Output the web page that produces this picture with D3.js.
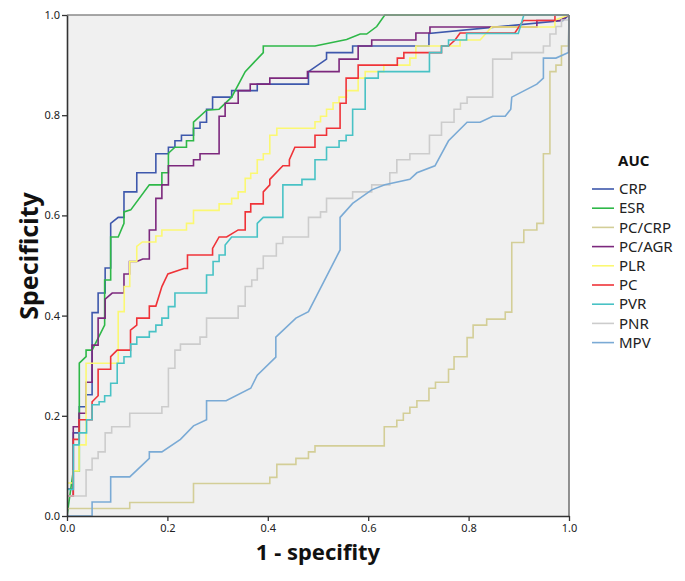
<!DOCTYPE html>
<html><head><meta charset="utf-8">
<script src="https://cdn.jsdelivr.net/npm/d3@7"></script>
<style>body{margin:0;background:#fff}svg{display:block}</style>
</head><body><svg id="c" width="685" height="581"></svg>
<script>
// ---- DATA ----
const seriesNames = ["CRP","ESR","PC/CRP","PC/AGR","PLR","PC","PVR","PNR","MPV"];
const seriesColors = ["#3E58AC","#2EB848","#D3CE97","#7C287D","#FBF873","#EF3338","#48C2C5","#CCCCCC","#7AAAD5"];
const xTickValues = [0,0.2,0.4,0.6,0.8,1.0];
const yTickValues = [0,0.2,0.4,0.6,0.8,1.0];
const legendTitle = "AUC";
const xTitle = "1 - specifity";
const yTitle = "Specificity";

const crp = [[0,0],[0,0.054],[0.0125,0.054],[0.0125,0.166],[0.0245,0.166],[0.0245,0.218],[0.038,0.218],[0.038,0.242],[0.050,0.242],[0.050,0.406],[0.062,0.406],[0.062,0.445],[0.076,0.445],[0.076,0.495],[0.087,0.495],[0.087,0.584],[0.102,0.596],[0.1135,0.596],[0.1135,0.647],[0.139,0.647],[0.139,0.685],[0.177,0.685],[0.177,0.723],[0.202,0.723],[0.202,0.736],[0.215,0.736],[0.215,0.749],[0.228,0.749],[0.228,0.760],[0.252,0.760],[0.252,0.774],[0.265,0.774],[0.265,0.786],[0.278,0.786],[0.278,0.812],[0.290,0.812],[0.290,0.836],[0.328,0.836],[0.328,0.849],[0.379,0.849],[0.379,0.862],[0.481,0.862],[0.481,0.887],[0.517,0.912],[0.517,0.925],[0.569,0.925],[0.569,0.938],[0.721,0.938],[0.721,0.963],[0.988,0.989],[1,1]];
const esr = [[0,0],[0.0125,0.090],[0.0245,0.090],[0.0245,0.305],[0.038,0.318],[0.038,0.331],[0.050,0.331],[0.075,0.381],[0.075,0.471],[0.087,0.471],[0.087,0.557],[0.102,0.557],[0.1135,0.584],[0.1135,0.607],[0.127,0.611],[0.164,0.661],[0.189,0.661],[0.189,0.685],[0.202,0.685],[0.202,0.724],[0.215,0.736],[0.238,0.736],[0.238,0.749],[0.252,0.749],[0.252,0.786],[0.278,0.810],[0.303,0.812],[0.328,0.836],[0.355,0.887],[0.391,0.925],[0.391,0.938],[0.494,0.938],[0.557,0.951],[0.584,0.962],[0.597,0.962],[0.617,0.977],[0.633,1],[1,1]];
const pcCrp = [[0,0],[0,0.015],[0.125,0.015],[0.125,0.027],[0.252,0.027],[0.252,0.065],[0.404,0.065],[0.404,0.077],[0.418,0.077],[0.418,0.103],[0.456,0.103],[0.456,0.115],[0.481,0.115],[0.481,0.128],[0.494,0.128],[0.494,0.140],[0.632,0.140],[0.632,0.178],[0.657,0.178],[0.657,0.191],[0.670,0.191],[0.670,0.205],[0.683,0.205],[0.683,0.217],[0.697,0.217],[0.697,0.230],[0.721,0.230],[0.721,0.255],[0.734,0.255],[0.734,0.267],[0.760,0.267],[0.760,0.293],[0.771,0.293],[0.771,0.318],[0.797,0.318],[0.797,0.356],[0.809,0.356],[0.809,0.381],[0.836,0.381],[0.836,0.393],[0.873,0.393],[0.873,0.407],[0.886,0.407],[0.886,0.546],[0.910,0.546],[0.910,0.571],[0.936,0.571],[0.936,0.584],[0.949,0.584],[0.949,0.723],[0.962,0.723],[0.962,0.887],[0.974,0.887],[0.974,0.900],[0.985,0.900],[0.985,0.938],[0.999,0.938],[1,1]];
const pcAgr = [[0,0],[0,0.040],[0.0125,0.040],[0.0125,0.178],[0.024,0.178],[0.024,0.205],[0.038,0.205],[0.038,0.267],[0.050,0.267],[0.050,0.341],[0.062,0.341],[0.062,0.395],[0.076,0.395],[0.076,0.433],[0.090,0.445],[0.1135,0.445],[0.1135,0.483],[0.1245,0.483],[0.1245,0.508],[0.139,0.508],[0.151,0.513],[0.164,0.513],[0.164,0.571],[0.177,0.571],[0.177,0.634],[0.189,0.634],[0.189,0.661],[0.202,0.661],[0.202,0.699],[0.252,0.699],[0.252,0.711],[0.265,0.711],[0.265,0.723],[0.303,0.723],[0.303,0.798],[0.315,0.798],[0.315,0.824],[0.341,0.824],[0.341,0.849],[0.365,0.849],[0.365,0.862],[0.404,0.862],[0.404,0.874],[0.479,0.874],[0.479,0.887],[0.542,0.887],[0.542,0.912],[0.580,0.912],[0.580,0.938],[0.607,0.938],[0.607,0.950],[0.695,0.950],[0.695,0.964],[0.723,0.964],[0.723,0.976],[0.936,0.976],[0.936,0.989],[0.982,0.989],[1,1]];
const plr = [[0,0],[0,0.066],[0.012,0.066],[0.012,0.090],[0.024,0.090],[0.024,0.142],[0.038,0.142],[0.038,0.305],[0.102,0.305],[0.102,0.408],[0.114,0.408],[0.114,0.458],[0.125,0.458],[0.125,0.508],[0.139,0.508],[0.139,0.538],[0.150,0.547],[0.177,0.547],[0.177,0.559],[0.189,0.559],[0.189,0.571],[0.238,0.571],[0.238,0.584],[0.252,0.584],[0.252,0.610],[0.303,0.610],[0.303,0.623],[0.328,0.623],[0.328,0.634],[0.341,0.634],[0.341,0.647],[0.355,0.647],[0.355,0.674],[0.366,0.674],[0.366,0.684],[0.379,0.684],[0.379,0.711],[0.391,0.711],[0.391,0.723],[0.404,0.723],[0.404,0.760],[0.418,0.760],[0.418,0.774],[0.494,0.774],[0.494,0.787],[0.505,0.787],[0.505,0.798],[0.517,0.798],[0.517,0.812],[0.530,0.812],[0.530,0.825],[0.542,0.825],[0.542,0.836],[0.557,0.836],[0.557,0.849],[0.580,0.849],[0.580,0.874],[0.594,0.874],[0.594,0.887],[0.631,0.887],[0.631,0.900],[0.683,0.900],[0.683,0.914],[0.695,0.914],[0.695,0.938],[0.783,0.938],[0.783,0.950],[0.823,0.950],[0.846,0.976],[0.972,0.976],[0.972,0.990],[1,1]];
const pc = [[0,0],[0,0.040],[0.0125,0.040],[0.0125,0.153],[0.024,0.153],[0.024,0.192],[0.050,0.192],[0.050,0.228],[0.062,0.240],[0.062,0.293],[0.087,0.293],[0.087,0.318],[0.100,0.331],[0.1265,0.331],[0.1265,0.371],[0.139,0.381],[0.139,0.395],[0.164,0.395],[0.164,0.419],[0.177,0.419],[0.189,0.458],[0.201,0.483],[0.233,0.494],[0.240,0.494],[0.240,0.521],[0.290,0.521],[0.290,0.534],[0.303,0.557],[0.318,0.557],[0.341,0.571],[0.355,0.571],[0.355,0.607],[0.366,0.607],[0.366,0.623],[0.391,0.623],[0.391,0.647],[0.404,0.661],[0.404,0.672],[0.430,0.699],[0.443,0.699],[0.443,0.711],[0.454,0.736],[0.494,0.736],[0.494,0.760],[0.517,0.760],[0.517,0.774],[0.544,0.774],[0.544,0.824],[0.556,0.824],[0.556,0.874],[0.580,0.874],[0.580,0.900],[0.658,0.900],[0.658,0.914],[0.671,0.914],[0.671,0.925],[0.746,0.925],[0.746,0.938],[0.760,0.938],[0.773,0.950],[0.783,0.964],[0.892,0.964],[0.909,0.989],[0.972,0.989],[0.972,1],[1,1]];
const pvr = [[0,0],[0,0.053],[0.0125,0.053],[0.0125,0.142],[0.024,0.142],[0.024,0.166],[0.039,0.166],[0.039,0.192],[0.050,0.192],[0.050,0.222],[0.064,0.222],[0.064,0.228],[0.075,0.228],[0.075,0.240],[0.087,0.240],[0.087,0.265],[0.100,0.265],[0.100,0.305],[0.1135,0.305],[0.1135,0.318],[0.127,0.318],[0.127,0.343],[0.139,0.343],[0.139,0.357],[0.164,0.357],[0.164,0.368],[0.177,0.368],[0.177,0.381],[0.189,0.381],[0.189,0.395],[0.202,0.395],[0.202,0.418],[0.215,0.418],[0.215,0.445],[0.278,0.445],[0.278,0.481],[0.291,0.481],[0.291,0.508],[0.303,0.508],[0.303,0.521],[0.315,0.521],[0.315,0.541],[0.328,0.557],[0.379,0.557],[0.379,0.584],[0.391,0.596],[0.430,0.596],[0.430,0.661],[0.468,0.661],[0.468,0.672],[0.494,0.672],[0.494,0.711],[0.517,0.711],[0.517,0.736],[0.542,0.736],[0.542,0.749],[0.556,0.749],[0.556,0.760],[0.569,0.760],[0.569,0.812],[0.594,0.812],[0.594,0.874],[0.620,0.874],[0.620,0.887],[0.722,0.887],[0.722,0.925],[0.746,0.925],[0.746,0.938],[0.760,0.938],[0.760,0.950],[0.796,0.950],[0.796,0.963],[0.899,0.963],[0.910,1],[1,1]];
const pnr = [[0,0],[0,0.040],[0.038,0.040],[0.038,0.092],[0.050,0.092],[0.050,0.115],[0.062,0.115],[0.062,0.128],[0.076,0.128],[0.076,0.166],[0.089,0.166],[0.089,0.178],[0.125,0.178],[0.125,0.205],[0.189,0.205],[0.189,0.218],[0.202,0.218],[0.202,0.295],[0.215,0.295],[0.215,0.331],[0.226,0.331],[0.226,0.343],[0.265,0.343],[0.265,0.357],[0.278,0.357],[0.278,0.395],[0.341,0.395],[0.341,0.419],[0.355,0.419],[0.355,0.458],[0.368,0.458],[0.368,0.471],[0.379,0.471],[0.379,0.494],[0.391,0.494],[0.391,0.519],[0.417,0.519],[0.417,0.544],[0.430,0.544],[0.430,0.557],[0.481,0.557],[0.481,0.596],[0.505,0.596],[0.505,0.607],[0.517,0.607],[0.517,0.634],[0.569,0.634],[0.569,0.647],[0.607,0.647],[0.607,0.661],[0.643,0.661],[0.643,0.685],[0.657,0.685],[0.657,0.711],[0.683,0.711],[0.683,0.723],[0.722,0.723],[0.722,0.760],[0.746,0.760],[0.746,0.786],[0.771,0.786],[0.771,0.812],[0.784,0.812],[0.784,0.824],[0.797,0.824],[0.797,0.836],[0.848,0.836],[0.848,0.912],[0.886,0.912],[0.886,0.925],[0.949,0.925],[0.949,0.938],[0.962,0.938],[0.962,0.962],[0.974,0.962],[0.974,0.977],[0.985,0.977],[0.985,0.990],[0.999,0.990],[1,1]];
const mpv = [[0,0],[0.050,0],[0.050,0.028],[0.087,0.028],[0.087,0.078],[0.125,0.078],[0.164,0.115],[0.164,0.128],[0.189,0.128],[0.226,0.153],[0.252,0.180],[0.278,0.192],[0.278,0.230],[0.317,0.230],[0.366,0.255],[0.379,0.281],[0.416,0.317],[0.416,0.357],[0.456,0.395],[0.481,0.408],[0.544,0.531],[0.544,0.596],[0.569,0.624],[0.607,0.651],[0.633,0.661],[0.683,0.672],[0.697,0.685],[0.733,0.699],[0.760,0.749],[0.797,0.786],[0.823,0.786],[0.848,0.798],[0.873,0.798],[0.884,0.812],[0.886,0.836],[0.936,0.862],[0.949,0.874],[0.949,0.914],[0.974,0.914],[0.999,0.925],[1,1]];

const seriesData = [crp, esr, pcCrp, pcAgr, plr, pc, pvr, pnr, mpv];

// ---- DRAW ----
const svg = d3.select("#c");
const X0 = 67, X1 = 569, Y0 = 516, Y1 = 15;
const x = d3.scaleLinear().domain([0,1]).range([X0,X1]);
const y = d3.scaleLinear().domain([0,1]).range([Y0,Y1]);
const font = "'Noto Sans', 'Open Sans', sans-serif";

svg.append("rect").attr("x",X0).attr("y",Y1).attr("width",X1-X0).attr("height",Y0-Y1).attr("fill","#F0F0F0");

svg.append("clipPath").attr("id","pc").append("rect")
  .attr("x",X0).attr("y",Y1-1).attr("width",X1-X0+1).attr("height",Y0-Y1+2);

const line = d3.line().x(d=>x(d[0])).y(d=>y(d[1]));
const gLines = svg.append("g").attr("clip-path","url(#pc)");
seriesData.forEach((data,i)=>{
  gLines.append("path").datum(data).attr("d",line)
    .attr("fill","none").attr("stroke",seriesColors[i]).attr("stroke-width",1.6)
    .attr("stroke-linejoin","miter");
});

// frame top/right
svg.append("line").attr("x1",X0).attr("x2",X1).attr("y1",Y1).attr("y2",Y1).attr("stroke","#8a8a8a").attr("stroke-width",1.6);
svg.append("line").attr("x1",X1).attr("x2",X1).attr("y1",Y1).attr("y2",Y0).attr("stroke","#777").attr("stroke-width",1.6);

const fmt = d3.format(".1f");
const yAxis = svg.append("g").attr("transform",`translate(${X0},0)`)
  .call(d3.axisLeft(y).tickValues(yTickValues).tickFormat(fmt).tickSize(5).tickSizeOuter(0).tickPadding(2));
const xAxis = svg.append("g").attr("transform",`translate(0,${Y0})`)
  .call(d3.axisBottom(x).tickValues(xTickValues).tickFormat(fmt).tickSize(5).tickSizeOuter(0).tickPadding(3));
[yAxis,xAxis].forEach(a=>{
  a.select(".domain").attr("stroke","#333").attr("stroke-width",1.6);
  a.selectAll(".tick line").attr("stroke","#333").attr("stroke-width",1.3);
  a.selectAll(".tick text").attr("fill","#222").style("font-family",font).style("font-size","11px");
});

svg.append("text").attr("x",318).attr("y",560).attr("text-anchor","middle")
  .style("font-family",font).style("font-weight","bold").style("font-size","22px").attr("fill","#111").text(xTitle);
svg.append("text").attr("transform","translate(38,256) rotate(-90)").attr("text-anchor","middle")
  .style("font-family",font).style("font-weight","bold").style("font-size","25px").attr("fill","#111").text(yTitle);

// legend
const lg = svg.append("g");
lg.append("text").attr("x",618).attr("y",166).style("font-family",font).style("font-weight","bold")
  .style("font-size","15px").attr("fill","#111").text(legendTitle);
seriesNames.forEach((n,i)=>{
  const yy = 189 + i*19.2;
  lg.append("line").attr("x1",592).attr("x2",614).attr("y1",yy).attr("y2",yy)
    .attr("stroke",seriesColors[i]).attr("stroke-width",1.6);
  lg.append("text").attr("x",619).attr("y",yy).attr("dy","0.35em")
    .style("font-family",font).style("font-size","15px").attr("fill","#222").text(n);
});
</script></body></html>
